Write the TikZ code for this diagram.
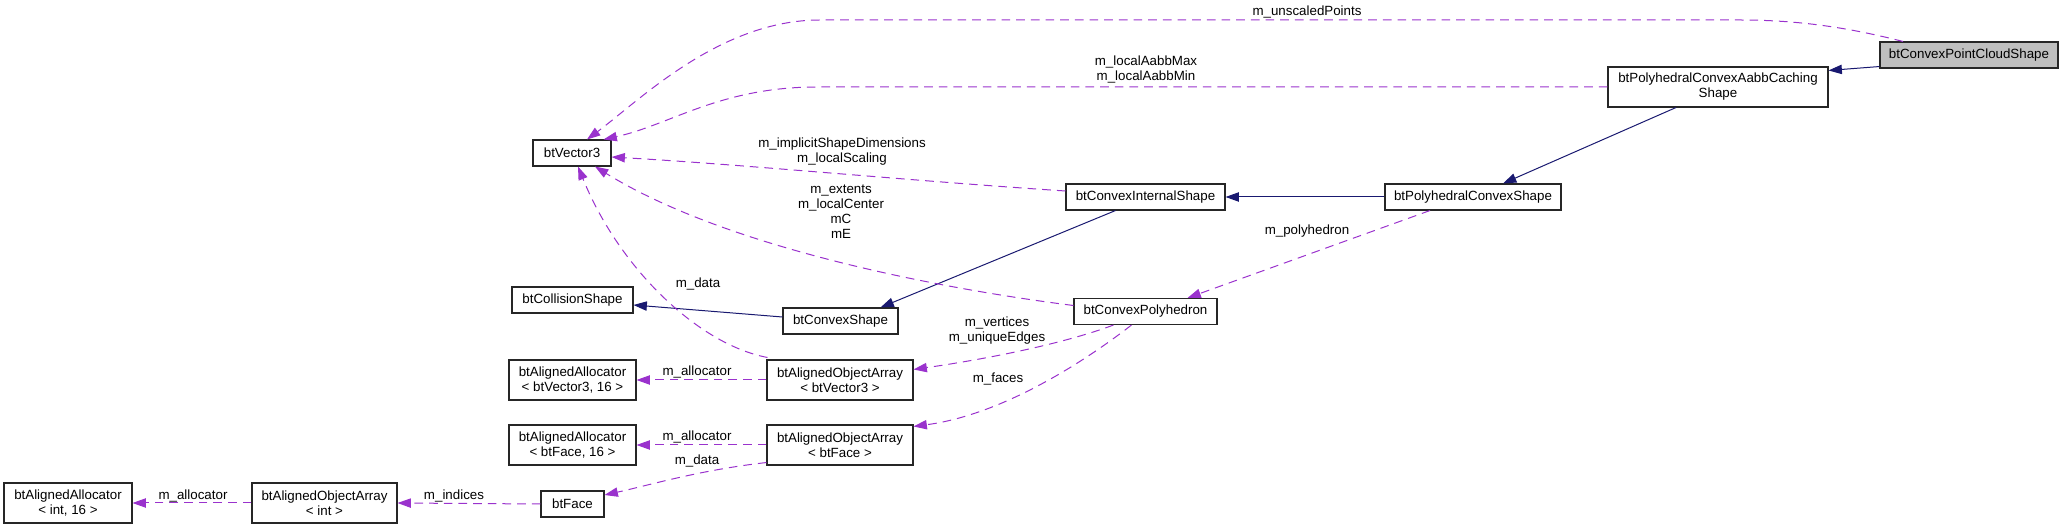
\documentclass[tikz,border=0pt]{standalone}
\usepackage{fontspec}
\setmainfont{Liberation Sans}
\usepackage{tikz}
\usetikzlibrary{arrows.meta}
\definecolor{inhblue}{RGB}{25,25,112}
\definecolor{memviolet}{RGB}{154,50,205}
\definecolor{rootgrey}{RGB}{191,191,191}

\begin{document}
\begin{tikzpicture}[
  x=0.75pt, y=-0.75pt,
  box/.style={draw=black!85, fill=white, line width=0.8pt, inner sep=2pt,
              minimum height=19.5pt, font=\fontsize{10}{11.25}\selectfont, align=center},
  tall/.style={minimum height=30pt},
  lab/.style={font=\fontsize{10}{11.25}\selectfont, align=center, inner sep=0pt},
  inh/.style={-{Triangle[length=10pt,width=7pt]}, draw=inhblue, line width=0.75pt},
  mem/.style={-{Triangle[length=10pt,width=7pt]}, draw=memviolet, line width=0.75pt,
              dash pattern=on 6.5pt off 4.5pt}
]
\useasboundingbox (0,0) rectangle (2061,530);

\node[box, tall, minimum width=96pt]     (ai)     at (68,503)     {btAlignedAllocator\\< int, 16 >};
\node[box, tall, minimum width=108.75pt] (oi)     at (324.5,503)  {btAlignedObjectArray\\< int >};
\node[box, minimum width=47.25pt]        (face)   at (572.5,504)  {btFace};
\node[box, tall, minimum width=95.25pt]  (av)     at (572.5,380)  {btAlignedAllocator\\< btVector3, 16 >};
\node[box, tall, minimum width=95.25pt]  (af)     at (572.5,445)  {btAlignedAllocator\\< btFace, 16 >};
\node[box, tall, minimum width=109.5pt]  (ov)     at (840,380)    {btAlignedObjectArray\\< btVector3 >};
\node[box, tall, minimum width=109.5pt]  (of)     at (840,445)    {btAlignedObjectArray\\< btFace >};
\node[box, minimum width=58.5pt]         (vec)    at (572,153)    {btVector3};
\node[box, minimum width=90.75pt]        (coll)   at (572.5,300)  {btCollisionShape};
\node[box, minimum width=86.25pt]        (cshape) at (840.5,321)  {btConvexShape};
\node[box, minimum width=119.25pt]       (cis)    at (1145.5,197) {btConvexInternalShape};
\node[box, minimum width=107.25pt]       (cpoly)  at (1145.5,311.5) {btConvexPolyhedron};
\node[box, minimum width=132pt]          (pcs)    at (1473,197)   {btPolyhedralConvexShape};
\node[box, tall, minimum width=165pt]    (aabb)   at (1718,87)    {btPolyhedralConvexAabbCaching\\Shape};
\node[box, minimum width=133.5pt, fill=rootgrey] (pcloud) at (1969,55) {btConvexPointCloudShape};

\draw[mem] ([shift={(-66,0)}]pcloud.north) .. controls (1850,28) and (1800,20) .. (1740,20)
  -- (820,20) .. controls (720,20) and (640,100) .. ([shift={(15,0)}]vec.north);
\node[lab] (lup) at (1307,12) {m\_unscaledPoints};
\draw[mem] (aabb.west) -- (817,87) .. controls (720,87) and (670,125) .. ([shift={(-8,0)}]vec.north east);
\node[lab] (laabb) at (1146,70) {m\_localAabbMax\\m\_localAabbMin};

\draw[inh] ([shift={(0,-2)}]pcloud.south west) -- ([shift={(0,4)}]aabb.north east);
\draw[inh] ([shift={(-42,0)}]aabb.south) -- ([shift={(30,0)}]pcs.north);
\draw[inh] (pcs.west) -- (cis.east);
\draw[inh] ([shift={(-30,0)}]cis.south) -- ([shift={(40,0)}]cshape.north);
\draw[inh] ([shift={(0,-4)}]cshape.west) -- ([shift={(0,5)}]coll.east);

\draw[mem] ([shift={(0,-6)}]cis.west) .. controls (900,180) and (750,165) .. ([shift={(0,4)}]vec.east);
\node[lab] (lcis) at (842,152) {m\_implicitShapeDimensions\\m\_localScaling};
\draw[mem] ([shift={(0,-6)}]cpoly.west) .. controls (950,290) and (730,250) .. ([shift={(23,0)}]vec.south);
\node[lab] (lext) at (841,212) {m\_extents\\m\_localCenter\\mC\\mE};
\draw[mem] ([shift={(-43,0)}]pcs.south) -- ([shift={(42,0)}]cpoly.north);
\node[lab] (lpoly) at (1307,231) {m\_polyhedron};
\draw[mem] ([shift={(1,-2)}]ov.north west) .. controls (700,345) and (620,270) .. ([shift={(6,0)}]vec.south);
\node[lab] (ldata) at (698,284) {m\_data};

\draw[mem] ([shift={(-32,0)}]cpoly.south) .. controls (1060,345) and (980,360) .. ([shift={(0,10)}]ov.north east);
\node[lab] (lvert) at (997,331) {m\_vertices\\m\_uniqueEdges};
\draw[mem] ([shift={(-14,0)}]cpoly.south) .. controls (1080,365) and (1000,415) .. ([shift={(0,2)}]of.north east);
\node[lab] (lfaces) at (998,379) {m\_faces};

\draw[mem] (ov.west) -- (av.east);
\node[lab] (lav) at (697,372) {m\_allocator};
\draw[mem] (of.west) -- (af.east);
\node[lab] (laf) at (697,437) {m\_allocator};
\draw[mem] ([shift={(0,-3)}]of.south west) .. controls (700,470) and (650,485) .. ([shift={(0,-9)}]face.east);
\node[lab] (lfd) at (697,461) {m\_data};
\draw[mem] (face.west) -- (oi.east);
\node[lab] (lidx) at (454,496) {m\_indices};
\draw[mem] (oi.west) -- (ai.east);
\node[lab] (lai) at (193,496) {m\_allocator};
\end{tikzpicture}
\end{document}
